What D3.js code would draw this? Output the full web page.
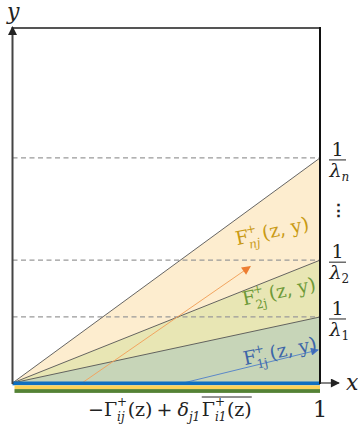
<!DOCTYPE html>
<html><head><meta charset="utf-8">
<script src="https://cdn.jsdelivr.net/npm/d3@7"></script>
<style>html,body{margin:0;padding:0;background:#fff;}svg{display:block;}</style>
</head><body>
<svg id="c" width="358" height="436"></svg>
<script>
// ---- data ----
const xDomain = [0, 1];
const yDomain = [0, 1];
const levelIndex = ["n", "2", "1"];          // drawn back to front
const levelValues = [0.634, 0.346, 0.186];   // 1/λ_n, 1/λ_2, 1/λ_1
const arrowStart = [[0.226, 0], [0.555, 0]];  // orange (F_nj), blue (F_1j)
const arrowEnd = [[0.773, 0.328], [0.994, 0.093]];
const labelNames = ["nj", "2j", "1j"];
const labelPos = [[0.730, 0.388], [0.752, 0.218], [0.755, 0.050]];

// ---- style ----
const fills = ["#fdedcf", "#e8e6b4", "#c7d5b8"];
const textCol = ["#c99a14", "#6e9a38", "#3d66a8"];
const arrowCol = ["#f2a560", "#5b88c8"];
const serif = "'DejaVu Serif', 'Liberation Serif', serif";

const svg = d3.select("#c");
const x = d3.scaleLinear().domain(xDomain).range([12.5, 320]);
const y = d3.scaleLinear().domain(yDomain).range([383, 28]);

const defs = svg.append("defs");
function marker(id, col, w, h) {
  defs.append("marker").attr("id", id).attr("viewBox", "0 0 10 10").attr("refX", 9).attr("refY", 5)
    .attr("markerWidth", w).attr("markerHeight", h).attr("markerUnits", "userSpaceOnUse").attr("orient", "auto")
    .append("path").attr("d", "M0,0L10,5L0,10Z").attr("fill", col);
}
marker("ma0", "#ed7d31", 10, 9);
marker("ma1", "#4472c4", 10, 8);
marker("mk", "#222", 10, 9);

// triangles
const line = d3.line().x(d => x(d[0])).y(d => y(d[1]));
levelValues.forEach((v, i) => {
  svg.append("path").attr("d", line([[0, 0], [1, v], [1, 0]]) + "Z").attr("fill", fills[i]).attr("stroke", "none");
});
// dashed level lines
levelValues.forEach(v => {
  svg.append("line").attr("x1", x(0)).attr("x2", x(1)).attr("y1", y(v)).attr("y2", y(v))
    .attr("stroke", "#999").attr("stroke-width", 1.2).attr("stroke-dasharray", "5,3.5");
});
// boundary lines
levelValues.forEach(v => {
  svg.append("line").attr("x1", x(0)).attr("y1", y(0)).attr("x2", x(1)).attr("y2", y(v))
    .attr("stroke", "#555").attr("stroke-width", 0.9);
});
// arrows
arrowStart.forEach((s, i) => {
  svg.append("line").attr("x1", x(s[0])).attr("y1", y(s[1])).attr("x2", x(arrowEnd[i][0])).attr("y2", y(arrowEnd[i][1]))
    .attr("stroke", arrowCol[i]).attr("stroke-width", 1).attr("marker-end", `url(#ma${i})`);
});
// bottom strips
const strips = ["#0f6fc0", "#fcd35a", "#548235"];
strips.forEach((c, i) => {
  svg.append("rect").attr("x", i === 0 ? x(0) : x(0) + 2).attr("width", x(1) - x(0) - (i === 0 ? 0 : 2))
    .attr("y", y(0) - 1.5 + i * 3.8).attr("height", 3.8).attr("fill", c);
});
// frame
svg.append("line").attr("x1", x(0)).attr("x2", x(1)).attr("y1", y(1)).attr("y2", y(1)).attr("stroke", "#555").attr("stroke-width", 2);
svg.append("line").attr("x1", x(1)).attr("x2", x(1)).attr("y1", y(1) - 1).attr("y2", y(0) + 1).attr("stroke", "#111").attr("stroke-width", 2);
svg.append("line").attr("x1", x(0)).attr("x2", x(0)).attr("y1", y(0) + 1).attr("y2", y(1) - 1)
  .attr("stroke", "#444").attr("stroke-width", 2).attr("marker-end", "url(#mk)");
svg.append("line").attr("x1", x(1)).attr("x2", 339).attr("y1", y(0)).attr("y2", y(0))
  .attr("stroke", "#333").attr("stroke-width", 1.2).attr("marker-end", "url(#mk)");

// axis letters
svg.append("text").attr("x", 7).attr("y", 19).attr("font-family", serif).attr("font-style", "italic").attr("font-size", 22).attr("fill", "#222").text("y");
svg.append("text").attr("x", 346).attr("y", 390).attr("font-family", serif).attr("font-style", "italic").attr("font-size", 22).attr("fill", "#222").text("x");
svg.append("text").attr("x", x(1)).attr("y", 417).attr("text-anchor", "middle").attr("font-family", serif).attr("font-size", 23).attr("fill", "#222").text("1");

// fraction labels 1/λ
levelValues.forEach((v, i) => {
  const cy = y(v) + 2;
  const g = svg.append("g").attr("font-family", serif).attr("fill", "#222");
  g.append("text").attr("x", 337.5).attr("y", cy - 4).attr("text-anchor", "middle").attr("font-size", 19).text("1");
  g.append("line").attr("x1", 329).attr("x2", 346).attr("y1", cy).attr("y2", cy).attr("stroke", "#222").attr("stroke-width", 1);
  const t = g.append("text").attr("x", 329.5).attr("y", cy + 17).attr("font-size", 19);
  t.append("tspan").attr("font-style", "italic").text("λ");
  t.append("tspan").attr("font-size", 12).attr("font-style", i === 0 ? "italic" : "normal").attr("dy", 4).text(levelIndex[i]);
});
svg.append("text").attr("x", 338).attr("y", 216).attr("text-anchor", "middle").attr("font-family", serif).attr("font-size", 17).attr("font-weight", "bold").attr("fill", "#222").text("⋮");

// F labels
labelNames.forEach((n, i) => {
  const g = svg.append("g").attr("transform", `translate(${x(labelPos[i][0])},${y(labelPos[i][1])}) rotate(-12)`)
    .attr("font-family", serif).attr("fill", textCol[i]);
  g.append("text").attr("x", 0).attr("y", 0).attr("font-size", 19).text("F");
  g.append("text").attr("x", 12).attr("y", -9).attr("font-size", 12).text("+");
  g.append("text").attr("x", 12).attr("y", 6).attr("font-size", 12).attr("font-style", i === 0 ? "italic" : "normal").text(n);
  g.append("text").attr("x", 27).attr("y", 0).attr("font-size", 19).text("(z, y)");
});

// bottom label (pieces placed left to right)
const bg = svg.append("g").attr("font-family", serif).attr("fill", "#222");
let cx = 88;
const base = 416;
function piece(txt, size, dy, italic) {
  const t = bg.append("text").attr("x", cx).attr("y", base + dy).attr("font-size", size)
    .attr("font-style", italic ? "italic" : "normal").style("white-space", "pre").text(txt);
  return t.node().getComputedTextLength();
}
let w;
w = piece("−Γ", 19, 0, false); cx += w;
const w1 = piece("+", 12, -10, false);
const w2 = piece("ij", 12, 5, true); cx += Math.max(w1, w2) + 0.5;
w = piece("(z)", 19, 0, false); cx += w + 4;
w = piece("+", 19, 0, false); cx += w + 5;
w = piece("δ", 19, 0, true); cx += w;
w = piece("j1", 12, 5, true); cx += w + 1.5;
const ovStart = cx;
w = piece("Γ", 19, 0, false); cx += w;
const w3 = piece("+", 12, -10, false);
const w4 = piece("i1", 12, 5, true); cx += Math.max(w3, w4) + 0.5;
w = piece("(z)", 19, 0, false); cx += w;
bg.append("line").attr("x1", ovStart).attr("x2", cx).attr("y1", 397).attr("y2", 397).attr("stroke", "#222").attr("stroke-width", 1);
</script>
</body></html>
